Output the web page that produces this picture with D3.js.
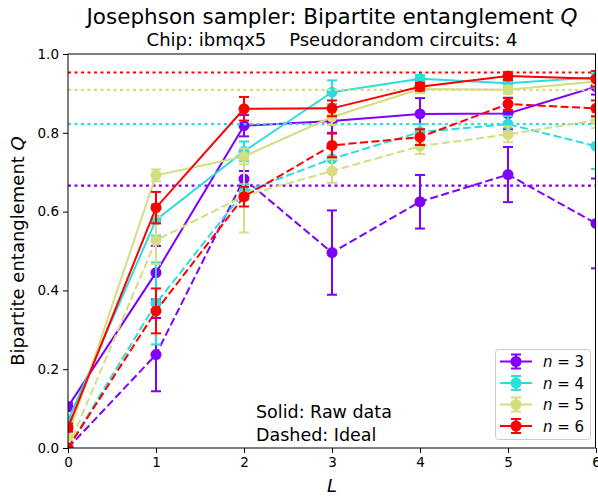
<!DOCTYPE html>
<html>
<head>
<meta charset="utf-8">
<script src="https://cdn.jsdelivr.net/npm/d3@7"></script>
<style>
  body { margin: 0; background: #fff; }
  svg { display: block; font-family: "DejaVu Sans", sans-serif; }
</style>
</head>
<body>
<svg id="chart" width="598" height="500"></svg>
<script>
// Circuit depth L
const depths = [0, 1, 2, 3, 4, 5, 6];
// Qubit counts n
const qubits = [3, 4, 5, 6];
const colors = ["#8000ff", "#2bdddd", "#d4dd80", "#ff0000"];

// Raw (measured) entanglement Q, one array per n
const raw3 = [0.105, 0.445, 0.818, 0.830, 0.848, 0.849, 0.917];
const raw4 = [0.070, 0.579, 0.753, 0.903, 0.937, 0.926, 0.941];
const raw5 = [0.030, 0.692, 0.740, 0.840, 0.911, 0.909, 0.930];
const raw6 = [0.052, 0.610, 0.861, 0.862, 0.917, 0.944, 0.937];
const rawErr3 = [0.010, 0.068, 0.027, 0.030, 0.040, 0.040, 0.020];
const rawErr4 = [0.010, 0.040, 0.025, 0.030, 0.010, 0.010, 0.010];
const rawErr5 = [0.010, 0.015, 0.020, 0.020, 0.010, 0.010, 0.015];
const rawErr6 = [0.010, 0.040, 0.030, 0.020, 0.010, 0.010, 0.020];

// Ideal (simulated) entanglement Q
const ideal3 = [0, 0.237, 0.683, 0.496, 0.625, 0.694, 0.570];
const ideal4 = [0, 0.367, 0.650, 0.734, 0.802, 0.822, 0.766];
const ideal5 = [0, 0.527, 0.640, 0.703, 0.766, 0.796, 0.832];
const ideal6 = [0, 0.348, 0.638, 0.768, 0.789, 0.873, 0.862];
const idealErr3 = [0, 0.093, 0.020, 0.107, 0.068, 0.070, 0.114];
const idealErr4 = [0, 0.104, 0.020, 0.030, 0.020, 0.020, 0.058];
const idealErr5 = [0, 0.060, 0.093, 0.030, 0.020, 0.020, 0.020];
const idealErr6 = [0, 0.057, 0.025, 0.030, 0.020, 0.015, 0.020];

// Asymptotic (Haar-random) Q per n, drawn as dotted reference lines
const haarQ = [0.666, 0.822, 0.909, 0.953];

const xTicks = [0, 1, 2, 3, 4, 5, 6];
const yTicks = [0.0, 0.2, 0.4, 0.6, 0.8, 1.0];

const rawSets = [raw3, raw4, raw5, raw6];
const rawErrs = [rawErr3, rawErr4, rawErr5, rawErr6];
const idealSets = [ideal3, ideal4, ideal5, ideal6];
const idealErrs = [idealErr3, idealErr4, idealErr5, idealErr6];

const W = 598, H = 500;
const margin = { left: 68, right: 2, top: 54, bottom: 52 };
const svg = d3.select("#chart");

const x = d3.scaleLinear().domain([0, 6]).range([margin.left, W - margin.right]);
const y = d3.scaleLinear().domain([0, 1]).range([H - margin.bottom, margin.top]);

svg.append("defs").append("clipPath").attr("id", "plotClip")
  .append("rect")
  .attr("x", margin.left).attr("y", margin.top)
  .attr("width", W - margin.left - margin.right)
  .attr("height", H - margin.top - margin.bottom);

const plot = svg.append("g").attr("clip-path", "url(#plotClip)");

const line = d3.line().x((d, i) => x(depths[i])).y(d => y(d));

function drawSeries(vals, errs, color, dash) {
  const g = plot.append("g");
  g.append("path").datum(vals)
    .attr("d", line)
    .attr("fill", "none")
    .attr("stroke", color)
    .attr("stroke-width", 2)
    .attr("stroke-dasharray", dash);
  const eb = g.selectAll("g.eb").data(vals).join("g").attr("class", "eb");
  eb.append("line")
    .attr("x1", (d, i) => x(depths[i])).attr("x2", (d, i) => x(depths[i]))
    .attr("y1", (d, i) => y(d - errs[i])).attr("y2", (d, i) => y(d + errs[i]))
    .attr("stroke", color).attr("stroke-width", 2);
  [-1, 1].forEach(s => {
    eb.append("line")
      .attr("x1", (d, i) => x(depths[i]) - 5).attr("x2", (d, i) => x(depths[i]) + 5)
      .attr("y1", (d, i) => y(d + s * errs[i])).attr("y2", (d, i) => y(d + s * errs[i]))
      .attr("stroke", color).attr("stroke-width", 2);
  });
  g.selectAll("circle").data(vals).join("circle")
    .attr("cx", (d, i) => x(depths[i]))
    .attr("cy", d => y(d))
    .attr("r", 5.5)
    .attr("fill", color);
}

qubits.forEach((n, k) => {
  drawSeries(rawSets[k], rawErrs[k], colors[k], null);
  drawSeries(idealSets[k], idealErrs[k], colors[k], "8,3.5");
  plot.append("line")
    .attr("x1", x(0)).attr("x2", x(6))
    .attr("y1", y(haarQ[k])).attr("y2", y(haarQ[k]))
    .attr("stroke", colors[k]).attr("stroke-width", 2.2)
    .attr("stroke-dasharray", "3,3.5");
});

// Axes
const xAxis = d3.axisBottom(x).tickValues(xTicks).tickFormat(d3.format("d")).tickSizeOuter(0).tickSize(5).tickPadding(4);
const yAxis = d3.axisLeft(y).tickValues(yTicks).tickFormat(d3.format(".1f")).tickSizeOuter(0).tickSize(5).tickPadding(4);

const gx = svg.append("g").attr("transform", `translate(0,${H - margin.bottom})`).call(xAxis);
const gy = svg.append("g").attr("transform", `translate(${margin.left},0)`).call(yAxis);
[gx, gy].forEach(g => {
  g.selectAll("text").attr("font-size", 13.5).attr("fill", "#000").attr("font-family", "DejaVu Sans");
  g.selectAll("line").attr("stroke", "#000");
  g.select(".domain").remove();
});

// Frame
svg.append("rect")
  .attr("x", margin.left).attr("y", margin.top)
  .attr("width", W - margin.left - margin.right - 0.5)
  .attr("height", H - margin.top - margin.bottom)
  .attr("fill", "none").attr("stroke", "#000").attr("stroke-width", 1);

// Titles
const title = svg.append("text").attr("x", (margin.left + W - margin.right) / 2).attr("y", 24)
  .attr("text-anchor", "middle").attr("font-size", 21.5);
title.append("tspan").text("Josephson sampler: Bipartite entanglement ");
title.append("tspan").attr("font-style", "italic").text("Q");

svg.append("text").attr("x", (margin.left + W - margin.right) / 2).attr("y", 46)
  .attr("text-anchor", "middle").attr("font-size", 18)
  .attr("xml:space", "preserve")
  .text("Chip: ibmqx5    Pseudorandom circuits: 4");

// Axis labels
svg.append("text").attr("x", (margin.left + W - margin.right) / 2).attr("y", 492)
  .attr("text-anchor", "middle").attr("font-size", 18).attr("font-style", "italic").text("L");

const yl = svg.append("text")
  .attr("transform", `translate(24,${(margin.top + H - margin.bottom) / 2}) rotate(-90)`)
  .attr("text-anchor", "middle").attr("font-size", 18);
yl.append("tspan").text("Bipartite entanglement ");
yl.append("tspan").attr("font-style", "italic").text("Q");

// Annotation
svg.append("text").attr("x", 256).attr("y", 418).attr("font-size", 17.5).text("Solid: Raw data");
svg.append("text").attr("x", 256).attr("y", 441).attr("font-size", 17.5).text("Dashed: Ideal");

// Legend
const lg = svg.append("g");
lg.append("rect").attr("x", 495.5).attr("y", 349.5).attr("width", 95).attr("height", 90)
  .attr("rx", 3).attr("fill", "#fff").attr("fill-opacity", 0.8)
  .attr("stroke", "#ccc").attr("stroke-width", 1);
qubits.forEach((n, k) => {
  const cy = 361.5 + k * 21.5;
  const item = lg.append("g");
  item.append("line").attr("x1", 500).attr("x2", 532).attr("y1", cy).attr("y2", cy)
    .attr("stroke", colors[k]).attr("stroke-width", 2);
  item.append("line").attr("x1", 516).attr("x2", 516).attr("y1", cy - 7).attr("y2", cy + 7)
    .attr("stroke", colors[k]).attr("stroke-width", 2);
  [-7, 7].forEach(o => item.append("line").attr("x1", 511).attr("x2", 521)
    .attr("y1", cy + o).attr("y2", cy + o).attr("stroke", colors[k]).attr("stroke-width", 2));
  item.append("circle").attr("cx", 516).attr("cy", cy).attr("r", 5.5).attr("fill", colors[k]);
  const t = item.append("text").attr("x", 543).attr("y", cy + 5.5).attr("font-size", 15);
  t.append("tspan").attr("font-style", "italic").text("n");
  t.append("tspan").text(" = " + n);
});
</script>
</body>
</html>
